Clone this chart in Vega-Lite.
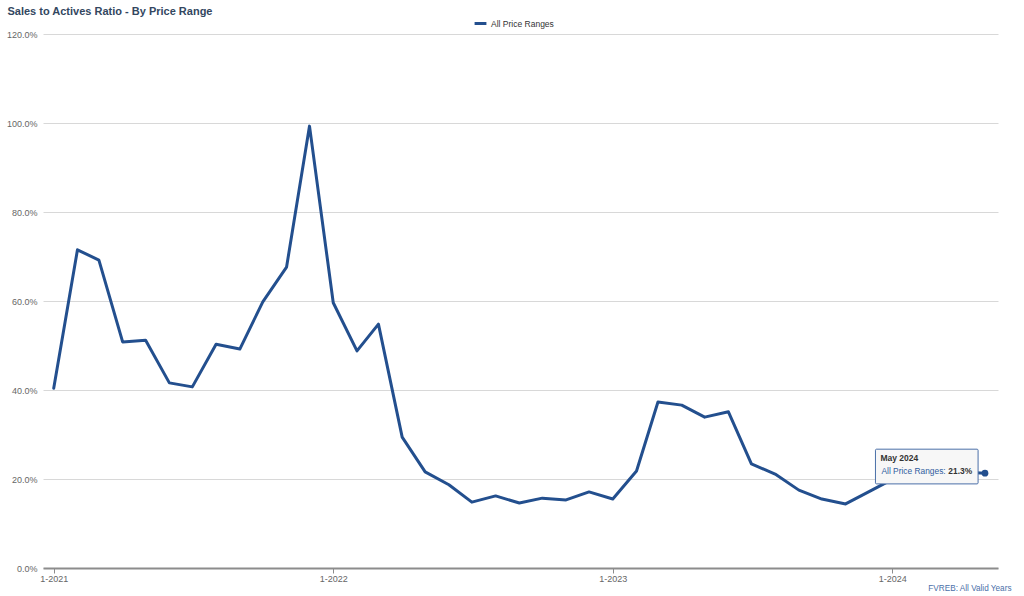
{
  "$schema": "https://vega.github.io/schema/vega-lite/v6.json",
  "autosize": {"type": "none"},
  "width": 955,
  "height": 534,
  "padding": {"left": 43, "top": 34, "right": 26, "bottom": 28},
  "background": "#ffffff",
  "config": {
    "font": "Liberation Sans",
    "view": {"stroke": null}
  },
  "title": {
    "text": "Sales to Actives Ratio - By Price Range",
    "anchor": "start",
    "frame": "bounds",
    "fontSize": 11,
    "fontWeight": "bold",
    "color": "#33475f",
    "offset": -1,
    "dx": 1
  },
  "datasets": {
    "ratio": [
      {"month": "2021-01-01", "series": "All Price Ranges", "ratio": 40.4},
      {"month": "2021-02-01", "series": "All Price Ranges", "ratio": 71.5},
      {"month": "2021-03-01", "series": "All Price Ranges", "ratio": 69.2},
      {"month": "2021-04-01", "series": "All Price Ranges", "ratio": 50.8},
      {"month": "2021-05-01", "series": "All Price Ranges", "ratio": 51.2},
      {"month": "2021-06-01", "series": "All Price Ranges", "ratio": 41.6},
      {"month": "2021-07-01", "series": "All Price Ranges", "ratio": 40.7},
      {"month": "2021-08-01", "series": "All Price Ranges", "ratio": 50.3},
      {"month": "2021-09-01", "series": "All Price Ranges", "ratio": 49.2},
      {"month": "2021-10-01", "series": "All Price Ranges", "ratio": 59.8},
      {"month": "2021-11-01", "series": "All Price Ranges", "ratio": 67.6},
      {"month": "2021-12-01", "series": "All Price Ranges", "ratio": 99.3},
      {"month": "2022-01-01", "series": "All Price Ranges", "ratio": 59.6},
      {"month": "2022-02-01", "series": "All Price Ranges", "ratio": 48.8},
      {"month": "2022-03-01", "series": "All Price Ranges", "ratio": 54.8},
      {"month": "2022-04-01", "series": "All Price Ranges", "ratio": 29.4},
      {"month": "2022-05-01", "series": "All Price Ranges", "ratio": 21.6},
      {"month": "2022-06-01", "series": "All Price Ranges", "ratio": 18.7},
      {"month": "2022-07-01", "series": "All Price Ranges", "ratio": 14.8},
      {"month": "2022-08-01", "series": "All Price Ranges", "ratio": 16.2},
      {"month": "2022-09-01", "series": "All Price Ranges", "ratio": 14.6},
      {"month": "2022-10-01", "series": "All Price Ranges", "ratio": 15.7},
      {"month": "2022-11-01", "series": "All Price Ranges", "ratio": 15.3},
      {"month": "2022-12-01", "series": "All Price Ranges", "ratio": 17.1},
      {"month": "2023-01-01", "series": "All Price Ranges", "ratio": 15.5},
      {"month": "2023-02-01", "series": "All Price Ranges", "ratio": 21.8},
      {"month": "2023-03-01", "series": "All Price Ranges", "ratio": 37.3},
      {"month": "2023-04-01", "series": "All Price Ranges", "ratio": 36.6},
      {"month": "2023-05-01", "series": "All Price Ranges", "ratio": 33.9},
      {"month": "2023-06-01", "series": "All Price Ranges", "ratio": 35.1},
      {"month": "2023-07-01", "series": "All Price Ranges", "ratio": 23.4},
      {"month": "2023-08-01", "series": "All Price Ranges", "ratio": 21.1},
      {"month": "2023-09-01", "series": "All Price Ranges", "ratio": 17.5},
      {"month": "2023-10-01", "series": "All Price Ranges", "ratio": 15.5},
      {"month": "2023-11-01", "series": "All Price Ranges", "ratio": 14.4},
      {"month": "2023-12-01", "series": "All Price Ranges", "ratio": 17.1},
      {"month": "2024-01-01", "series": "All Price Ranges", "ratio": 19.9},
      {"month": "2024-02-01", "series": "All Price Ranges", "ratio": 21.5},
      {"month": "2024-03-01", "series": "All Price Ranges", "ratio": 22.4},
      {"month": "2024-04-01", "series": "All Price Ranges", "ratio": 21.6},
      {"month": "2024-05-01", "series": "All Price Ranges", "ratio": 21.3}
    ],
    "hover": [
      {"month": "2024-05-01", "label": "May 2024", "series": "All Price Ranges", "ratio": 21.3, "value_text": "21.3%",
       "box_start": "2023-12-10", "box_end": "2024-04-22", "box_top": 26.7, "box_bottom": 18.9}
    ]
  },
  "layer": [
    {
      "data": {"name": "ratio"},
      "mark": {"type": "line", "strokeWidth": 3, "strokeJoin": "round", "strokeCap": "round"},
      "encoding": {
        "x": {
          "field": "month",
          "type": "temporal",
          "scale": {
            "type": "utc",
            "domain": [
              {"year": 2020, "month": 12, "date": 18, "utc": true},
              {"year": 2024, "month": 5, "date": 18, "utc": true}
            ]
          },
          "axis": {
            "title": "FVREB: All Valid Years",
            "titleAnchor": "end",
            "titleAlign": "right",
            "titleBaseline": "alphabetic",
            "titleX": 968,
            "titleY": 22,
            "titleFontSize": 8.2,
            "titleFontWeight": "normal",
            "titleColor": "#4a6fa8",
            "values": [
              {"year": 2021, "month": 1, "date": 1, "utc": true},
              {"year": 2022, "month": 1, "date": 1, "utc": true},
              {"year": 2023, "month": 1, "date": 1, "utc": true},
              {"year": 2024, "month": 1, "date": 1, "utc": true}
            ],
            "labelExpr": "utcFormat(datum.value, '%-m-%Y')",
            "labelFontSize": 9,
            "labelColor": "#666666",
            "labelPadding": 1,
            "domainColor": "#8c8c8c",
            "domainWidth": 2,
            "tickColor": "#8c8c8c",
            "tickSize": 5,
            "grid": false
          }
        },
        "y": {
          "field": "ratio",
          "type": "quantitative",
          "scale": {"domain": [0, 120], "nice": false},
          "axis": {
            "title": null,
            "values": [0, 20, 40, 60, 80, 100, 120],
            "labelExpr": "format(datum.value, '.1f') + '%'",
            "labelFontSize": 9,
            "labelColor": "#666666",
            "labelPadding": 6,
            "domain": false,
            "ticks": false,
            "grid": true,
            "gridColor": "#d8d8d8",
            "gridWidth": 1
          }
        },
        "color": {
          "field": "series",
          "type": "nominal",
          "scale": {"range": ["#234f8e"]},
          "legend": {
            "title": null,
            "orient": "none",
            "legendX": 430,
            "legendY": -18,
            "symbolType": "stroke",
            "symbolStrokeWidth": 3,
            "symbolSize": 140,
            "labelFontSize": 8.5,
            "labelColor": "#333333",
            "labelOffset": 3
          }
        }
      }
    },
    {
      "data": {"name": "hover"},
      "mark": {"type": "point", "filled": true, "size": 45, "color": "#234f8e", "opacity": 1},
      "encoding": {
        "x": {"field": "month", "type": "temporal"},
        "y": {"field": "ratio", "type": "quantitative"}
      }
    },
    {
      "data": {"name": "hover"},
      "mark": {"type": "rect", "fill": "#f7f7f7", "stroke": "#4a6fa8", "strokeWidth": 1, "cornerRadius": 1},
      "encoding": {
        "x": {"field": "box_start", "type": "temporal"},
        "x2": {"field": "box_end"},
        "y": {"field": "box_top", "type": "quantitative"},
        "y2": {"field": "box_bottom"}
      }
    },
    {
      "data": {"name": "hover"},
      "mark": {"type": "text", "align": "left", "baseline": "middle", "dx": 5, "dy": 9, "fontSize": 8.5, "fontWeight": "bold", "color": "#333333"},
      "encoding": {
        "x": {"field": "box_start", "type": "temporal"},
        "y": {"field": "box_top", "type": "quantitative"},
        "text": {"field": "label"}
      }
    },
    {
      "data": {"name": "hover"},
      "mark": {"type": "text", "align": "left", "baseline": "middle", "dx": 6, "dy": 22, "fontSize": 8.4, "color": "#2f5c9e"},
      "encoding": {
        "x": {"field": "box_start", "type": "temporal"},
        "y": {"field": "box_top", "type": "quantitative"},
        "text": {"value": "All Price Ranges:"}
      }
    },
    {
      "data": {"name": "hover"},
      "mark": {"type": "text", "align": "right", "baseline": "middle", "dx": -6, "dy": 22, "fontSize": 8.4, "fontWeight": "bold", "color": "#333333"},
      "encoding": {
        "x": {"field": "box_end", "type": "temporal"},
        "y": {"field": "box_top", "type": "quantitative"},
        "text": {"field": "value_text"}
      }
    }
  ]
}
